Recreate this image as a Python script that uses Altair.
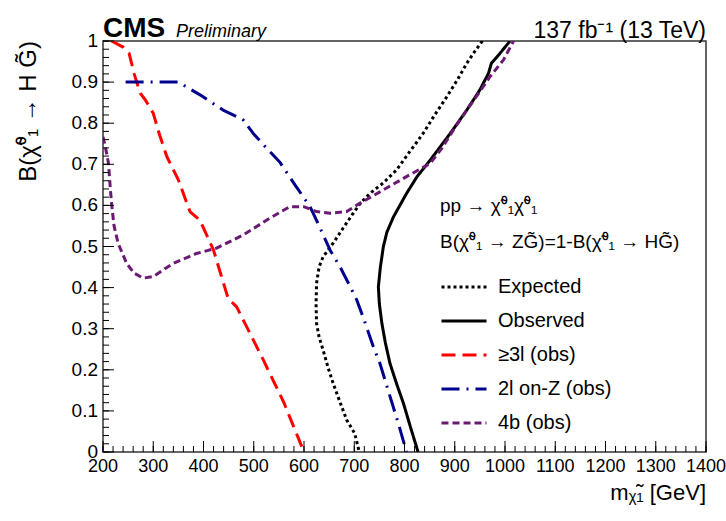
import altair as alt
import pandas as pd

FONT = "Liberation Sans"

series_names = ["Expected", "Observed", "≥3l (obs)", "2l on-Z (obs)", "4b (obs)"]
series_colors = ["#000000", "#000000", "#ff0000", "#00008f", "#6b1a73"]
series_dashes = [[3, 3], [1, 0], [14, 7], [18, 7, 2, 7], [7, 4]]

exp_m = [955, 940, 924, 905, 884, 860, 837, 810, 784, 758, 731, 712, 698, 678, 658, 638, 630, 625, 624, 625, 630, 638, 648, 658, 672, 685, 701, 706, 710]
exp_b = [1.0, 0.975, 0.946, 0.905, 0.864, 0.82, 0.775, 0.73, 0.686, 0.655, 0.629, 0.605, 0.581, 0.545, 0.508, 0.475, 0.45, 0.41, 0.36, 0.313, 0.28, 0.248, 0.205, 0.167, 0.12, 0.078, 0.045, 0.02, 0.0]

obs_m = [1010, 990, 973, 967, 950, 924, 891, 851, 825, 804, 778, 765, 758, 752, 748, 750, 755, 762, 771, 784, 798, 812, 827]
obs_b = [1.0, 0.970, 0.946, 0.921, 0.881, 0.832, 0.775, 0.710, 0.67, 0.629, 0.572, 0.535, 0.5, 0.45, 0.402, 0.36, 0.313, 0.265, 0.216, 0.167, 0.118, 0.06, 0.0]

l3_m = [217, 240, 252, 262, 274, 284, 300, 313, 327, 350, 373, 393, 420, 435, 449, 466, 492, 519, 560, 600]
l3_b = [1.0, 0.985, 0.97, 0.92, 0.873, 0.857, 0.824, 0.77, 0.719, 0.662, 0.585, 0.564, 0.491, 0.43, 0.374, 0.353, 0.29, 0.224, 0.12, 0.0]

l2_m = [245, 300, 327, 350, 393, 439, 479, 499, 525, 552, 582, 612, 632, 652, 672, 692, 705, 720, 738, 751, 775, 790, 804]
l2_b = [0.9, 0.9, 0.9, 0.9, 0.869, 0.832, 0.808, 0.775, 0.74, 0.705, 0.65, 0.597, 0.545, 0.491, 0.45, 0.402, 0.370, 0.32, 0.256, 0.216, 0.12, 0.06, 0.0]

b4_m = [200, 205, 211, 214, 217, 222, 230, 247, 262, 280, 300, 320, 340, 386, 426, 479, 532, 572, 599, 625, 652, 685, 711, 751, 804, 851, 875, 897, 924, 950, 970, 997, 1017]
b4_b = [0.767, 0.74, 0.702, 0.65, 0.605, 0.55, 0.508, 0.459, 0.435, 0.423, 0.427, 0.443, 0.459, 0.483, 0.496, 0.528, 0.569, 0.597, 0.597, 0.585, 0.581, 0.585, 0.605, 0.633, 0.670, 0.702, 0.74, 0.783, 0.832, 0.877, 0.913, 0.954, 1.0]

x_major = [200, 300, 400, 500, 600, 700, 800, 900, 1000, 1100, 1200, 1300, 1400]
x_minor = list(range(200, 1401, 20))
y_major = [0, 0.1, 0.2, 0.3, 0.4, 0.5, 0.6, 0.7, 0.8, 0.9, 1.0]
y_minor = [round(i * 0.02, 2) for i in range(51)]
x_labels = [str(v) for v in x_major]
y_labels = [f"{v:g}" for v in y_major]

legend_title = ["pp → χ̃⁰₁χ̃⁰₁", "B(χ̃⁰₁ → ZG̃)=1-B(χ̃⁰₁ → HG̃)"]
y_title = ["B(χ̃⁰₁ → H G̃)"]
x_title = ["mᵪ̃₁ [GeV]"]
cms_text = ["CMS"]
prelim_text = ["Preliminary"]
lumi_text = ["137 fb⁻¹ (13 TeV)"]

W, H = 603, 411
MAJ, MIN = 11, 6

rows = []
for name, xs, ys in zip(series_names, [exp_m, obs_m, l3_m, l2_m, b4_m], [exp_b, obs_b, l3_b, l2_b, b4_b]):
    for i, (xv, yv) in enumerate(zip(xs, ys)):
        rows.append({"series": name, "m": xv, "b": yv, "idx": i})
df = pd.DataFrame(rows)

x_scale = alt.Scale(domain=[200, 1400], nice=False, zero=False)
y_scale = alt.Scale(domain=[0, 1], nice=False)

leg = alt.Legend(
    orient="none", legendX=337, legendY=156, title=legend_title,
    titleFont=FONT, titleFontSize=19, titleFontWeight="normal", titleColor="black",
    titleLineHeight=36, titlePadding=11, titleAnchor="start", titleLimit=500,
    labelFont=FONT, labelFontSize=20, labelColor="black", labelOffset=10,
    symbolType="stroke", symbolSize=2025, symbolStrokeWidth=3, rowPadding=0,
    padding=0, labelLimit=300,
)

lines = alt.Chart(df).mark_line(strokeWidth=3, clip=True, strokeCap="butt", strokeJoin="round").encode(
    x=alt.X("m:Q", scale=x_scale, axis=None),
    y=alt.Y("b:Q", scale=y_scale, axis=None),
    color=alt.Color("series:N", scale=alt.Scale(domain=series_names, range=series_colors), legend=leg),
    strokeDash=alt.StrokeDash("series:N", scale=alt.Scale(domain=series_names, range=series_dashes), legend=leg),
    order=alt.Order("idx:Q"),
)

def xticks(values, length):
    return alt.Chart(pd.DataFrame({"xt": values})).mark_rule(
        color="black", strokeWidth=1, opacity=1
    ).encode(x=alt.X("xt:Q", scale=x_scale, axis=None), y=alt.value(H), y2=alt.value(H - length))

def yticks(values, length):
    return alt.Chart(pd.DataFrame({"yt": values})).mark_rule(
        color="black", strokeWidth=1, opacity=1
    ).encode(y=alt.Y("yt:Q", scale=y_scale, axis=None), x=alt.value(0), x2=alt.value(length))

xlab = alt.Chart(pd.DataFrame({"v": x_major, "t": x_labels})).mark_text(
    font=FONT, fontSize=18, align="center", baseline="top", color="black"
).encode(x=alt.X("v:Q", scale=x_scale, axis=None), y=alt.value(H + 6), text="t:N")

ylab = alt.Chart(pd.DataFrame({"v": y_major, "t": y_labels})).mark_text(
    font=FONT, fontSize=19, align="right", baseline="middle", color="black"
).encode(y=alt.Y("v:Q", scale=y_scale, axis=None), x=alt.value(-5), text="t:N")

xtit = alt.Chart(pd.DataFrame({"t": x_title})).mark_text(
    font=FONT, fontSize=22, align="right", baseline="alphabetic", color="black"
).encode(x=alt.value(W), y=alt.value(H + 48), text="t:N")

ytit = alt.Chart(pd.DataFrame({"t": y_title})).mark_text(
    font=FONT, fontSize=24, align="right", baseline="middle", angle=270, color="black"
).encode(x=alt.value(-74), y=alt.value(0), text="t:N")

cms = alt.Chart(pd.DataFrame({"t": cms_text})).mark_text(
    font=FONT, fontSize=28, fontWeight="bold", align="left", baseline="alphabetic", color="black"
).encode(x=alt.value(0), y=alt.value(-4), text="t:N")
prelim = alt.Chart(pd.DataFrame({"t": prelim_text})).mark_text(
    font=FONT, fontSize=18, fontStyle="italic", align="left", baseline="alphabetic", color="black"
).encode(x=alt.value(73), y=alt.value(-4), text="t:N")
lumi = alt.Chart(pd.DataFrame({"t": lumi_text})).mark_text(
    font=FONT, fontSize=23, align="right", baseline="alphabetic", color="black"
).encode(x=alt.value(W), y=alt.value(-3), text="t:N")

chart = alt.layer(
    lines,
    xlab, ylab, xtit, ytit,
    cms, prelim, lumi,
    xticks(x_minor, MIN), xticks(x_major, MAJ),
    yticks(y_minor, MIN), yticks(y_major, MAJ),
).properties(
    width=W, height=H,
    autosize=alt.AutoSizeParams(type="none"),
    padding={"left": 103, "top": 41, "right": 20, "bottom": 69},
    background="white",
).configure_view(
    stroke="#333333", strokeWidth=1.5
)

chart.save("out.html", embed_options={"renderer": "svg", "actions": False})
